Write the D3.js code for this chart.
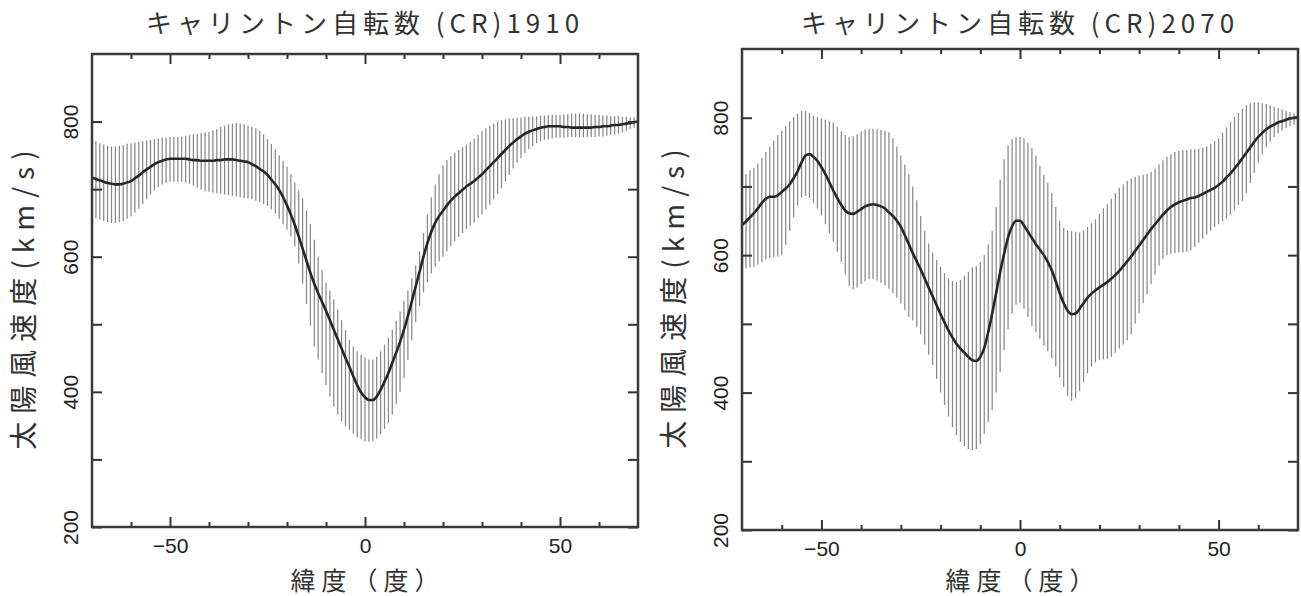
<!DOCTYPE html>
<html>
<head>
<meta charset="utf-8">
<script src="https://cdn.jsdelivr.net/npm/d3@7"></script>
<style>
body { margin: 0; background: #fff; }
</style>
</head>
<body>
<div id="chart"></div>
<script>
// 緯度 (度) -70 .. 70, 1度ごと
var lats = d3.range(-70, 71);

var titles = ["キャリントン自転数 (CR)1910", "キャリントン自転数 (CR)2070"];
var xLabel = "緯度（度）";
var yLabelJa = "太陽風速度";
var yLabelUnit = "(km/s)";
var xTicks = [-50, 0, 50];
var xMinorTicks = [-60, -40, -30, -20, -10, 10, 20, 30, 40, 60];
var yTicks = [200, 400, 600, 800];
var yMinorTicks = [300, 500, 700];

// CR1910
var mean1910 = [
  717,715,713,711,709,708,707,707,708,710,
  712,716,720,725,729,733,737,740,742,744,
  745,745,745,745,745,744,743,743,742,742,
  742,742,743,743,744,744,744,743,742,741,
  740,737,734,730,726,721,714,707,699,688,
  676,662,647,630,612,594,576,560,546,533,
  520,506,492,478,464,450,437,423,410,399,
  392,388,388,393,403,415,428,443,458,474,
  492,512,534,556,578,600,620,637,650,660,
  668,676,683,689,694,699,704,708,712,717,
  722,728,734,740,746,752,758,764,769,774,
  778,782,785,787,789,791,792,793,793,793,
  793,792,792,791,791,791,791,791,791,792,
  792,793,793,794,795,795,796,797,798,799,800
];
var upper1910 = [
  773,771,768,766,764,763,763,764,765,767,
  768,769,770,771,772,773,774,775,776,776,
  777,777,777,778,779,780,781,782,783,784,
  785,787,789,792,794,796,797,798,797,796,
  794,792,790,786,781,774,767,759,750,742,
  733,722,710,698,686,668,648,625,600,580,
  562,550,537,522,506,491,477,467,460,455,
  451,448,448,452,460,470,480,492,505,519,
  535,550,568,587,608,635,662,688,707,722,
  735,743,749,754,758,762,766,770,775,780,
  786,790,794,797,800,802,803,804,805,806,
  806,807,807,808,808,809,809,810,810,810,
  810,811,811,812,812,812,812,811,811,810,
  810,809,809,808,808,808,807,807,806,806,806
];
var lower1910 = [
  659,657,655,653,651,650,650,651,653,656,
  660,665,671,678,685,692,698,703,707,709,
  711,711,711,711,710,708,705,702,699,697,
  696,695,694,693,692,691,690,689,688,687,
  686,685,683,681,678,675,670,664,656,648,
  640,630,615,590,560,530,498,467,448,428,
  410,393,378,366,356,349,344,338,333,330,
  327,326,327,331,337,345,354,366,382,400,
  420,447,476,503,527,547,562,575,585,593,
  600,608,616,623,629,635,641,646,651,657,
  663,670,677,685,693,701,711,721,731,739,
  746,753,759,764,768,771,773,774,775,776,
  776,776,777,777,777,777,777,777,777,777,
  778,778,779,780,781,782,784,786,789,791,794
];

// CR2070
var mean2070 = [
  644,649,655,661,668,676,682,685,685,687,
  692,697,703,712,722,735,745,747,743,737,
  728,718,706,694,683,673,665,661,660,663,
  667,671,673,674,673,671,668,662,657,650,
  641,629,616,603,591,579,566,553,540,527,
  514,502,490,480,471,464,458,452,447,446,
  452,465,488,515,545,575,602,626,642,650,
  650,643,634,625,616,608,600,590,578,562,
  545,530,519,514,515,522,530,538,544,549,
  553,557,561,566,571,577,584,591,598,606,
  614,622,630,638,645,652,659,665,670,674,
  677,679,681,683,684,686,689,692,695,698,
  702,707,713,719,726,733,741,749,757,765,
  772,778,783,787,790,793,795,797,799,800,801
];
var upper2070 = [
  711,718,723,727,733,741,750,758,767,775,
  781,788,795,801,806,810,810,807,803,801,
  799,797,795,793,787,780,775,772,773,776,
  780,783,784,784,783,782,781,779,770,758,
  745,732,718,700,680,657,635,617,604,593,
  583,574,567,562,561,564,570,576,582,584,
  590,600,616,635,670,710,740,760,769,772,
  772,770,764,756,745,730,717,705,690,670,
  650,640,636,635,634,633,636,641,647,652,
  660,668,674,682,690,698,703,708,711,714,
  716,717,718,721,726,732,738,743,747,750,
  752,753,753,754,754,755,756,758,762,766,
  770,778,786,794,801,807,813,818,821,822,
  822,821,820,818,816,814,812,810,808,806,805
];
var lower2070 = [
  580,581,582,583,586,590,594,596,597,598,
  600,615,635,655,672,684,686,683,676,668,
  658,645,632,620,605,590,572,555,550,553,
  558,562,565,565,563,560,556,551,545,538,
  530,520,510,505,495,485,470,455,440,420,
  400,382,365,350,338,328,322,318,316,318,
  325,340,357,375,400,430,462,492,515,528,
  530,522,510,497,488,478,468,460,450,438,
  422,408,395,388,392,402,415,428,438,444,
  447,448,449,452,458,464,470,476,485,500,
  515,530,543,558,572,585,595,600,602,603,
  604,604,605,607,612,618,624,630,636,641,
  645,649,653,659,666,673,679,690,705,720,
  735,747,757,765,772,777,781,785,788,790,792
];

var width = 1301;
var height = 596;

var svg = d3.select("#chart").append("svg")
  .attr("width", width)
  .attr("height", height);

var panels = [
  { left: 92, right: 638, top: 54, bottom: 527, title: titles[0], mean: mean1910, hi: upper1910, lo: lower1910 },
  { left: 742, right: 1298, top: 49, bottom: 530, title: titles[1], mean: mean2070, hi: upper2070, lo: lower2070 }
];

var cjk = "'Noto Sans CJK JP', 'Noto Sans', sans-serif";
var latin = "'Liberation Sans', Arial, sans-serif";

panels.forEach(function(p) {
  var x = d3.scaleLinear().domain([-70, 70]).range([p.left, p.right]);
  var y = d3.scaleLinear().domain([200, 900]).range([p.bottom, p.top]);
  var g = svg.append("g");

  // エラーバー
  g.append("g")
    .selectAll("line")
    .data(lats)
    .enter()
    .append("line")
    .attr("x1", function(d) { return x(d); })
    .attr("x2", function(d) { return x(d); })
    .attr("y1", function(d, i) { return y(p.lo[i]); })
    .attr("y2", function(d, i) { return y(p.hi[i]); })
    .attr("stroke", "#888")
    .attr("stroke-width", 1.25);

  // 平均
  var line = d3.line()
    .x(function(d) { return x(d); })
    .y(function(d, i) { return y(p.mean[i]); })
    .curve(d3.curveMonotoneX);

  g.append("path")
    .datum(lats)
    .attr("d", line)
    .attr("fill", "none")
    .attr("stroke", "#262626")
    .attr("stroke-width", 2.6);

  // 軸
  function styleAxis(sel) {
    sel.select(".domain").remove();
    sel.selectAll(".tick line").attr("stroke", "#333").attr("stroke-width", 2);
    sel.selectAll("text").attr("font-family", latin).attr("font-size", 21).attr("fill", "#222");
  }

  g.append("g")
    .attr("transform", "translate(0," + p.bottom + ")")
    .call(d3.axisBottom(x).tickValues(xMinorTicks).tickSize(-5).tickFormat(""))
    .call(styleAxis);
  g.append("g")
    .attr("transform", "translate(0," + p.bottom + ")")
    .call(d3.axisBottom(x).tickValues(xTicks).tickSize(-10).tickPadding(11))
    .call(styleAxis);
  g.append("g")
    .attr("transform", "translate(0," + p.top + ")")
    .call(d3.axisTop(x).tickValues(xMinorTicks).tickSize(-5).tickFormat(""))
    .call(styleAxis);
  g.append("g")
    .attr("transform", "translate(0," + p.top + ")")
    .call(d3.axisTop(x).tickValues(xTicks).tickSize(-10).tickFormat(""))
    .call(styleAxis);

  var yl = g.append("g")
    .attr("transform", "translate(" + p.left + ",0)")
    .call(d3.axisLeft(y).tickValues(yTicks.concat(yMinorTicks)).tickSize(-10)
      .tickFormat(function(d) { return yTicks.indexOf(d) >= 0 ? d : ""; }))
    .call(styleAxis);
  yl.selectAll("text")
    .attr("x", 0).attr("y", 0).attr("dy", 0)
    .attr("text-anchor", "middle")
    .attr("transform", "translate(-14,0) rotate(-90)");

  g.append("g")
    .attr("transform", "translate(" + p.right + ",0)")
    .call(d3.axisRight(y).tickValues(yTicks.concat(yMinorTicks)).tickSize(-10).tickFormat(""))
    .call(styleAxis);

  // 枠
  g.append("rect")
    .attr("x", p.left).attr("y", p.top)
    .attr("width", p.right - p.left).attr("height", p.bottom - p.top)
    .attr("fill", "none")
    .attr("stroke", "#3a3a3a")
    .attr("stroke-width", 2.5);

  // タイトル
  g.append("text")
    .attr("x", x(0))
    .attr("y", 33)
    .attr("text-anchor", "middle")
    .attr("font-family", cjk)
    .attr("font-size", 26)
    .attr("letter-spacing", 5)
    .attr("fill", "#333")
    .text(p.title);

  g.append("text")
    .attr("x", x(0) + 3)
    .attr("y", 590)
    .attr("text-anchor", "middle")
    .attr("font-family", cjk)
    .attr("font-size", 25)
    .attr("letter-spacing", 6)
    .attr("fill", "#333")
    .text(xLabel);

  var yt = g.append("text")
    .attr("transform", "translate(" + (p.left - 58) + "," + ((p.top + p.bottom) / 2 + 6) + ") rotate(-90)")
    .attr("text-anchor", "middle")
    .attr("font-family", cjk)
    .attr("font-size", 28)
    .attr("fill", "#333");
  yt.append("tspan").attr("letter-spacing", 8).text(yLabelJa);
  yt.append("tspan").attr("letter-spacing", 7).text(yLabelUnit);
});
</script>
</body>
</html>
